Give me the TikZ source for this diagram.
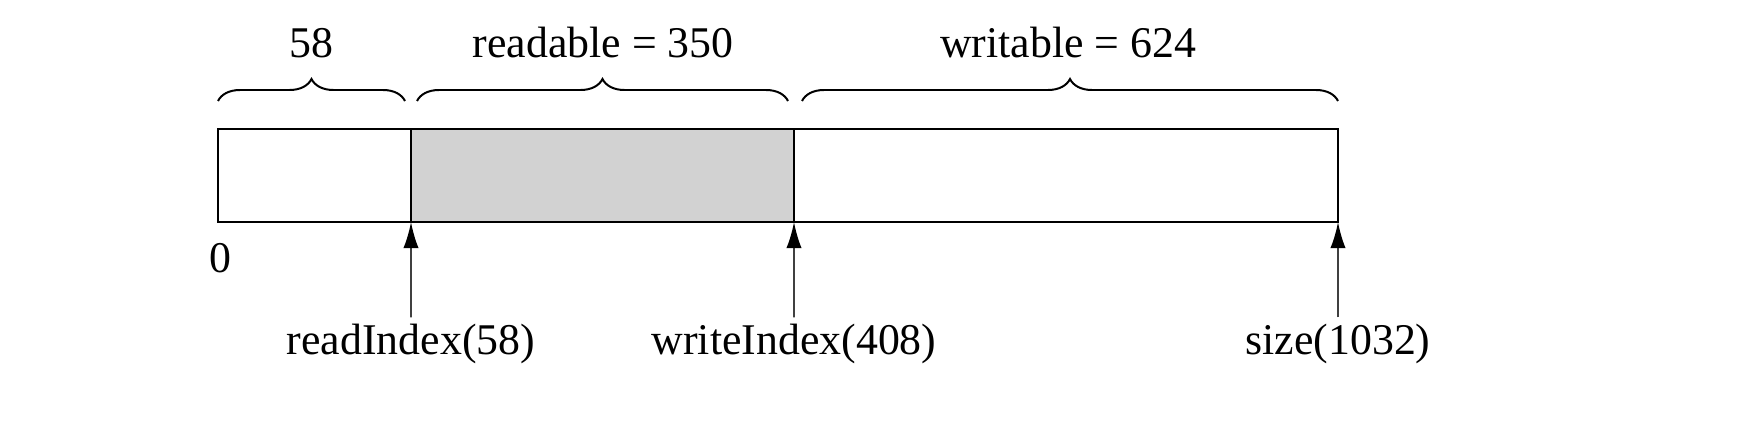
\documentclass[tikz,border=0pt]{standalone}
\usepackage{fontspec}
\setmainfont{Liberation Serif}
\usepackage{tikz}
\usetikzlibrary{arrows.meta,decorations.pathreplacing}

\begin{document}
\begin{tikzpicture}[font=\fontsize{11}{13}\selectfont,
  cell/.style={draw,line width=0.6pt,minimum height=23.25bp,inner sep=0pt,outer sep=0pt},
  span/.style={decorate,decoration={brace,amplitude=5.5bp,raise=0pt},line width=0.5pt},
  ptr/.style={-{Latex[length=6.5bp,width=3.8bp,color=black]},line width=0.45pt,black!75}]
\useasboundingbox (0bp,0bp) rectangle (439bp,-110bp);

\node (prep) at (78.625bp,-43.875bp)[cell,minimum width=48.25bp] {};
\node (rd) at (150.625bp,-43.875bp)[cell,minimum width=95.75bp,fill=gray!35] {};
\node (wr) at (266.5bp,-43.875bp)[cell,minimum width=136bp] {};

\coordinate (b1) at (54.5bp,-25.25bp);
\coordinate (b2) at (101.25bp,-25.25bp);
\coordinate (b3) at (104.25bp,-25.25bp);
\coordinate (b4) at (197bp,-25.25bp);
\coordinate (b5) at (200.5bp,-25.25bp);
\coordinate (b6) at (334.5bp,-25.25bp);
\draw [span] (b1) -- (b2);
\draw [span] (b3) -- (b4);
\draw [span] (b5) -- (b6);

\node (n58) at (77.75bp,-10.75bp) {58};
\node (nread) at (150.75bp,-10.75bp) {readable = 350};
\node (nwrite) at (267bp,-10.75bp) {writable = 624};
\node (zero) at (55bp,-64.5bp) {0};

\node (ri) at (102.75bp,-86bp)[inner sep=1.5bp] {readIndex(58)};
\node (wi) at (198.5bp,-86bp)[inner sep=1.5bp] {writeIndex(408)};
\node (sz) at (334.5bp,-86bp)[inner sep=1.5bp] {size(1032)};
\draw [ptr] (ri.north) -- (rd.south west);
\draw [ptr] (wi.north) -- (wr.south west);
\draw [ptr] (sz.north) -- (wr.south east);
\end{tikzpicture}
\end{document}
